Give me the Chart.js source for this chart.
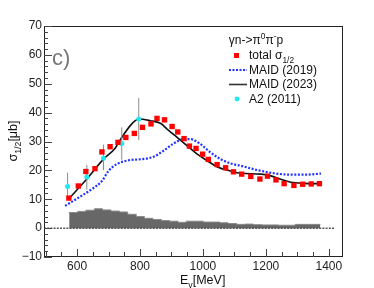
<!DOCTYPE html>
<html>
<head>
<meta charset="utf-8">
<script src="https://cdn.jsdelivr.net/npm/chart.js@4.4.0/dist/chart.umd.min.js"></script>
<style>
    html, body { margin: 0; padding: 0; background: #fff; }
</style>
</head>
<body>
<canvas id="mainChart" width="374" height="288"></canvas>
<script>
// values (E in MeV, sigma in microbarn)
const totalE = [574, 604, 628, 657, 679, 705, 730, 755, 782, 808, 835, 854, 878, 902, 920, 940, 957, 978, 999, 1017, 1045, 1072, 1097, 1123, 1152, 1181, 1205, 1232, 1258, 1289, 1317, 1344, 1370]
const totalV = [10.4, 14.6, 19.6, 20.6, 26.4, 28.2, 29.7, 31.4, 32.8, 34.9, 36.1, 38.0, 37.5, 35.2, 33.3, 31.0, 28.4, 27.6, 25.6, 23.8, 22.0, 20.9, 19.5, 18.7, 17.9, 17.0, 18.0, 16.7, 15.4, 14.8, 15.2, 15.3, 15.4]

const maid19E = [562, 604, 647, 679, 700, 727, 764, 806, 843, 875, 907, 939, 961, 992, 1024, 1056, 1088, 1120, 1173, 1226, 1279, 1322, 1375]
const maid19V = [7.7, 10.5, 13.5, 16.3, 19.8, 22.2, 23.5, 23.9, 24.7, 26.8, 29.3, 30.8, 30.8, 29.1, 26.2, 23.9, 22.4, 21.6, 20.1, 19.0, 18.5, 18.5, 18.9]

const maid23E = [574, 631, 684, 719, 742, 769, 785, 796, 833, 865, 886, 918, 950, 982, 1014, 1046, 1088, 1120, 1184, 1216, 1247, 1279, 1322, 1370]
const maid23V = [10.2, 17.0, 23.9, 27.4, 31.4, 35.5, 37.2, 37.8, 37.2, 36.3, 34.3, 31.4, 28.5, 25.6, 23.3, 21.2, 19.8, 19.0, 18.7, 18.1, 16.9, 15.9, 15.5, 15.4]

const a2E = [570, 631, 684, 742, 796]
const a2V = [14.4, 17.7, 24.2, 29.3, 37.8]
const a2Lo = [10.2, 13.3, 20.1, 23.7, 30.5]
const a2Hi = [19.2, 21.9, 28.9, 34.9, 45.1]

// systematic error histogram: bin edges and heights
const histEdges = [575, 602, 628, 655, 681, 708, 735, 761, 788, 814, 841, 868, 894, 921, 947, 974, 1001, 1027, 1054, 1080, 1107, 1134, 1160, 1187, 1213, 1240, 1267, 1293, 1320, 1346, 1373]
const histV = [5.1, 5.4, 5.8, 6.2, 6.7, 6.3, 5.9, 5.6, 4.8, 4.0, 3.4, 3.0, 2.6, 2.4, 2.0, 2.4, 2.4, 2.1, 2.1, 1.85, 1.6, 1.3, 1.4, 1.2, 1.1, 1.1, 1.0, 1.0, 1.3, 1.3]

const zeroLineE = [495, 1420]

const xTickLabels = [600, 800, 1000, 1200, 1400]
const yTickLabels = [-10, 0, 10, 20, 30, 40, 50, 60, 70]

const plotFont = '"Liberation Sans", Arial, Helvetica, sans-serif'

function toPoints(xs, ys) {
    return xs.map((x, i) => ({ x: x, y: ys[i] }))
}

function errorBarPoints() {
    const pts = []
    a2E.forEach((e, i) => {
        pts.push({ x: e, y: a2Lo[i] })
        pts.push({ x: e, y: a2Hi[i] })
        pts.push({ x: e, y: null })
    })
    return pts
}

function histPoints() {
    const pts = histV.map((v, i) => ({ x: histEdges[i], y: v }))
    pts.push({ x: histEdges[histEdges.length - 1], y: histV[histV.length - 1] })
    return pts
}

// text with sub/superscripts: parts = [[text, kind]]
function drawParts(ctx, parts, x, y, size, align) {
    let w = 0
    parts.forEach(p => {
        ctx.font = (p[1] ? size * 0.7 : size) + 'px ' + plotFont
        w += ctx.measureText(p[0]).width
    })
    let cx = align === 'center' ? x - w / 2 : x
    parts.forEach(p => {
        const s = p[1] ? size * 0.7 : size
        ctx.font = s + 'px ' + plotFont
        let dy = 0
        if (p[1] === 'sup') dy = -size * 0.42
        if (p[1] === 'sub') dy = size * 0.3
        ctx.fillText(p[0], cx, y + dy)
        cx += ctx.measureText(p[0]).width
    })
}

const decorations = {
    id: 'decorations',
    afterDraw(chart) {
        const ctx = chart.ctx
        const a = chart.chartArea
        const xs = chart.scales.x
        const ys = chart.scales.y
        ctx.save()

        // frame
        ctx.strokeStyle = '#222'
        ctx.lineWidth = 1
        ctx.strokeRect(a.left + 0.5, a.top + 0.5, a.right - a.left - 1, a.bottom - a.top - 1)

        // inner ticks
        ctx.strokeStyle = '#444'
        ctx.beginPath()
        for (let v = 500; v <= 1440; v += 50) {
            const px = Math.round(xs.getPixelForValue(v)) + 0.5
            const len = v % 200 === 0 ? 8 : 5
            ctx.moveTo(px, a.bottom)
            ctx.lineTo(px, a.bottom - len)
        }
        for (let v = -10; v <= 70; v += 2) {
            const py = Math.round(ys.getPixelForValue(v)) + 0.5
            const len = v % 10 === 0 ? 8 : 4
            ctx.moveTo(a.left, py)
            ctx.lineTo(a.left + len, py)
        }
        ctx.stroke()

        // panel label
        ctx.fillStyle = '#777'
        ctx.font = '22px ' + plotFont
        ctx.textAlign = 'left'
        ctx.textBaseline = 'alphabetic'
        ctx.fillText('c)', 52, 65)

        // axis titles
        ctx.fillStyle = '#111'
        drawParts(ctx, [['E', ''], ['γ', 'sub'], ['[MeV]', '']], 180, 284, 12.5, 'left')
        ctx.save()
        ctx.translate(17, 141)
        ctx.rotate(-Math.PI / 2)
        drawParts(ctx, [['σ', ''], ['1/2', 'sub'], ['[μb]', '']], 0, 0, 12.5, 'center')
        ctx.restore()

        // legend
        drawParts(ctx, [['γn->π', ''], ['0', 'sup'], ['π', ''], ['-', 'sup'], ['p', '']], 256, 44, 12, 'center')
        drawParts(ctx, [['total σ', ''], ['1/2', 'sub']], 249, 59, 12, 'left')
        drawParts(ctx, [['MAID (2019)', '']], 249, 73.5, 12, 'left')
        drawParts(ctx, [['MAID (2023)', '']], 249, 88, 12, 'left')
        drawParts(ctx, [['A2 (2011)', '']], 249, 102.5, 12, 'left')

        ctx.fillStyle = '#ff0000'
        ctx.fillRect(234, 53, 5, 5)

        ctx.strokeStyle = '#2233ff'
        ctx.lineWidth = 2
        ctx.setLineDash([2, 1.5])
        ctx.beginPath()
        ctx.moveTo(229, 70)
        ctx.lineTo(247, 70)
        ctx.stroke()
        ctx.setLineDash([])

        ctx.strokeStyle = '#333'
        ctx.lineWidth = 1.6
        ctx.beginPath()
        ctx.moveTo(229, 84.5)
        ctx.lineTo(247, 84.5)
        ctx.stroke()

        ctx.fillStyle = '#1ee8f0'
        ctx.beginPath()
        ctx.arc(237, 99, 2.4, 0, Math.PI * 2)
        ctx.fill()

        ctx.restore()
    }
}

const ctx = document.getElementById('mainChart').getContext('2d')
window.myChart = new Chart(ctx, {
    type: 'scatter',
    data: {
        datasets: [
            {
                label: 'total sigma 1/2',
                data: toPoints(totalE, totalV),
                pointStyle: 'rect',
                pointRadius: 3.8,
                backgroundColor: '#ff0000',
                borderWidth: 0,
                order: 1
            },
            {
                label: 'A2 (2011)',
                data: toPoints(a2E, a2V),
                pointRadius: 2.5,
                backgroundColor: '#1ee8f0',
                borderWidth: 0,
                order: 2
            },
            {
                label: 'A2 errors',
                data: errorBarPoints(),
                showLine: true,
                spanGaps: false,
                borderColor: '#8c8c8c',
                borderWidth: 1,
                pointRadius: 0,
                order: 3
            },
            {
                label: 'MAID (2023)',
                data: toPoints(maid23E, maid23V),
                showLine: true,
                cubicInterpolationMode: 'monotone',
                borderColor: '#111',
                borderWidth: 1.6,
                pointRadius: 0,
                order: 4
            },
            {
                label: 'MAID (2019)',
                data: toPoints(maid19E, maid19V),
                showLine: true,
                cubicInterpolationMode: 'monotone',
                borderColor: '#2233ff',
                borderWidth: 2.2,
                borderDash: [2, 1.6],
                pointRadius: 0,
                order: 5
            },
            {
                label: 'zero',
                data: zeroLineE.map(e => ({ x: e, y: 0 })),
                showLine: true,
                borderColor: '#555',
                borderWidth: 1.5,
                borderDash: [2, 1.2],
                pointRadius: 0,
                order: 6
            },
            {
                label: 'systematics',
                data: histPoints(),
                showLine: true,
                stepped: 'after',
                fill: 'origin',
                backgroundColor: '#676767',
                borderColor: '#8a8a8a',
                borderWidth: 1,
                pointRadius: 0,
                order: 7
            }
        ]
    },
    options: {
        responsive: false,
        animation: false,
        devicePixelRatio: 1,
        layout: { padding: { top: 26, right: 31, left: 0, bottom: 0 } },
        plugins: {
            legend: { display: false },
            tooltip: { enabled: false }
        },
        scales: {
            x: {
                type: 'linear',
                min: 495,
                max: 1445,
                afterFit: s => { s.height = 31 },
                afterBuildTicks: s => { s.ticks = xTickLabels.map(v => ({ value: v })) },
                grid: { display: false, drawTicks: false },
                border: { display: false },
                ticks: {
                    autoSkip: false,
                    maxRotation: 0,
                    padding: 2,
                    color: '#222',
                    font: { family: plotFont, size: 12 },
                    callback: v => String(v)
                }
            },
            y: {
                type: 'linear',
                min: -10,
                max: 70,
                afterFit: s => { s.width = 44 },
                afterBuildTicks: s => { s.ticks = yTickLabels.map(v => ({ value: v })) },
                grid: { display: false, drawTicks: false },
                border: { display: false },
                ticks: {
                    autoSkip: false,
                    padding: 2,
                    color: '#222',
                    font: { family: plotFont, size: 12 },
                    callback: v => v < 0 ? '\u2212' + (-v) : String(v)
                }
            }
        }
    },
    plugins: [decorations]
})
</script>
</body>
</html>
